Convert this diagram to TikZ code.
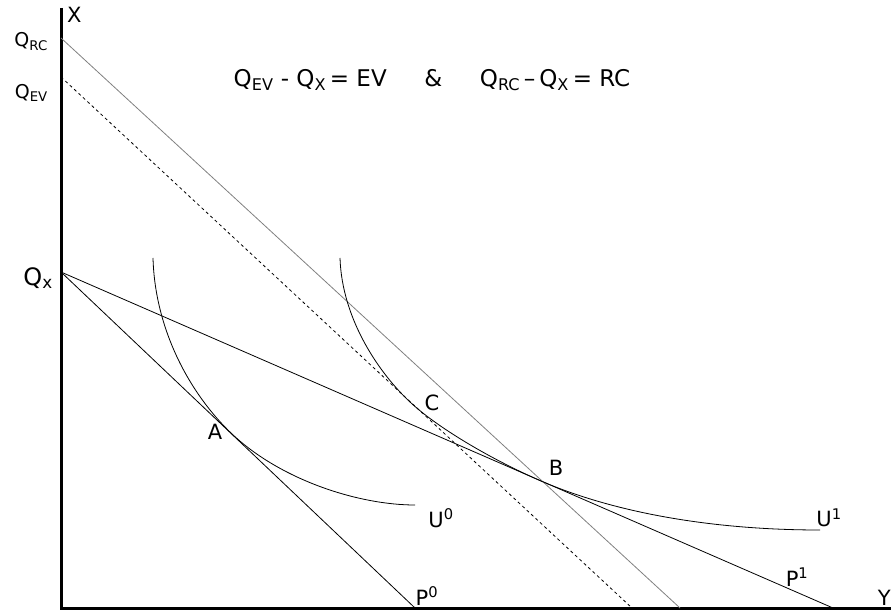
\documentclass[tikz,border=0pt]{standalone}
\usepackage{fontspec}
\setmainfont{DejaVu Sans}
\usetikzlibrary{calc}
\usetikzlibrary{positioning}

\tikzset{
    axis/.style={line width=3pt},
    budget/.style={line width=0.8pt},
    lbl/.style={inner sep=0pt, font=\fontsize{21}{24}\selectfont},
}
\newcommand{\lsub}[1]{\textsubscript{#1}}

\begin{document}
\begin{tikzpicture}[x=1pt,y=-1pt]
            \useasboundingbox (0,0) rectangle (891,612);

            % Axes
            \coordinate (O) at (61,608);
            \coordinate (xtop) at (61,8);
            \coordinate (yend) at (895,608);
            \draw[axis] (xtop) -- (O) -- (yend);
            \node[lbl, anchor=west] (X) at (67,15) {X};
            \node[lbl, anchor=east] (Y) at (891,598) {Y};

            % Intercepts
            \coordinate (QRC) at (61,38);
            \coordinate (QEV) at (61,77);
            \coordinate (Qx) at (61,272);
            \node[lbl, font=\fontsize{19}{22}\selectfont, anchor=east] (QRClbl) at (48,42) {Q\lsub{RC}};
            \node[lbl, font=\fontsize{19}{22}\selectfont, anchor=east] (QEVlbl) at (48,93) {Q\lsub{EV}};
            \node[lbl, font=\fontsize{24}{28}\selectfont, anchor=east] (Qxlbl) at (53,278) {Q\lsub{x}};

            % Budget lines
            \coordinate (P0end) at (415,608);
            \coordinate (P1end) at (833,608);
            \coordinate (RCend) at (680,608);
            \coordinate (EVend) at (632,608);
            \draw[budget] (Qx) -- (P0end);
            \draw[budget] (Qx) -- (P1end);
            \draw[budget, gray] (QRC) -- (RCend);
            \draw[budget, dashed] (QEV) -- (EVend);

            % Indifference curves
            \coordinate (A) at (232,434);
            \coordinate (B) at (541,481);
            \coordinate (C) at (410,402);
            \draw[budget] (153,258) .. controls (155,330) and (190,394) .. (A)
                .. controls (282,481) and (360,505) .. (415,505);
            \draw[budget] (340,258) .. controls (342,320) and (380,374) .. (C)
                .. controls (440,430) and (497,462) .. (B)
                .. controls (620,515) and (720,530) .. (820,530);

            \node[lbl] (Albl) at (215,432) {A};
            \node[lbl] (Blbl) at (556,468) {B};
            \node[lbl] (Clbl) at (432,403) {C};
            \node[lbl] (U0) at (441,518) {U\textsuperscript{0}};
            \node[lbl] (U1) at (829,518) {U\textsuperscript{1}};
            \node[lbl] (P0) at (427,596) {P\textsuperscript{0}};
            \node[lbl] (P1) at (797,577) {P\textsuperscript{1}};

            % Definitions
            \node[lbl, font=\fontsize{23}{27}\selectfont] (eq) at (432,80)
                {Q\lsub{EV} - Q\lsub{X}\,= EV \quad\ \& \quad\ Q\lsub{RC}\,\textendash\,Q\lsub{X}\,= RC};
\end{tikzpicture}
\end{document}
